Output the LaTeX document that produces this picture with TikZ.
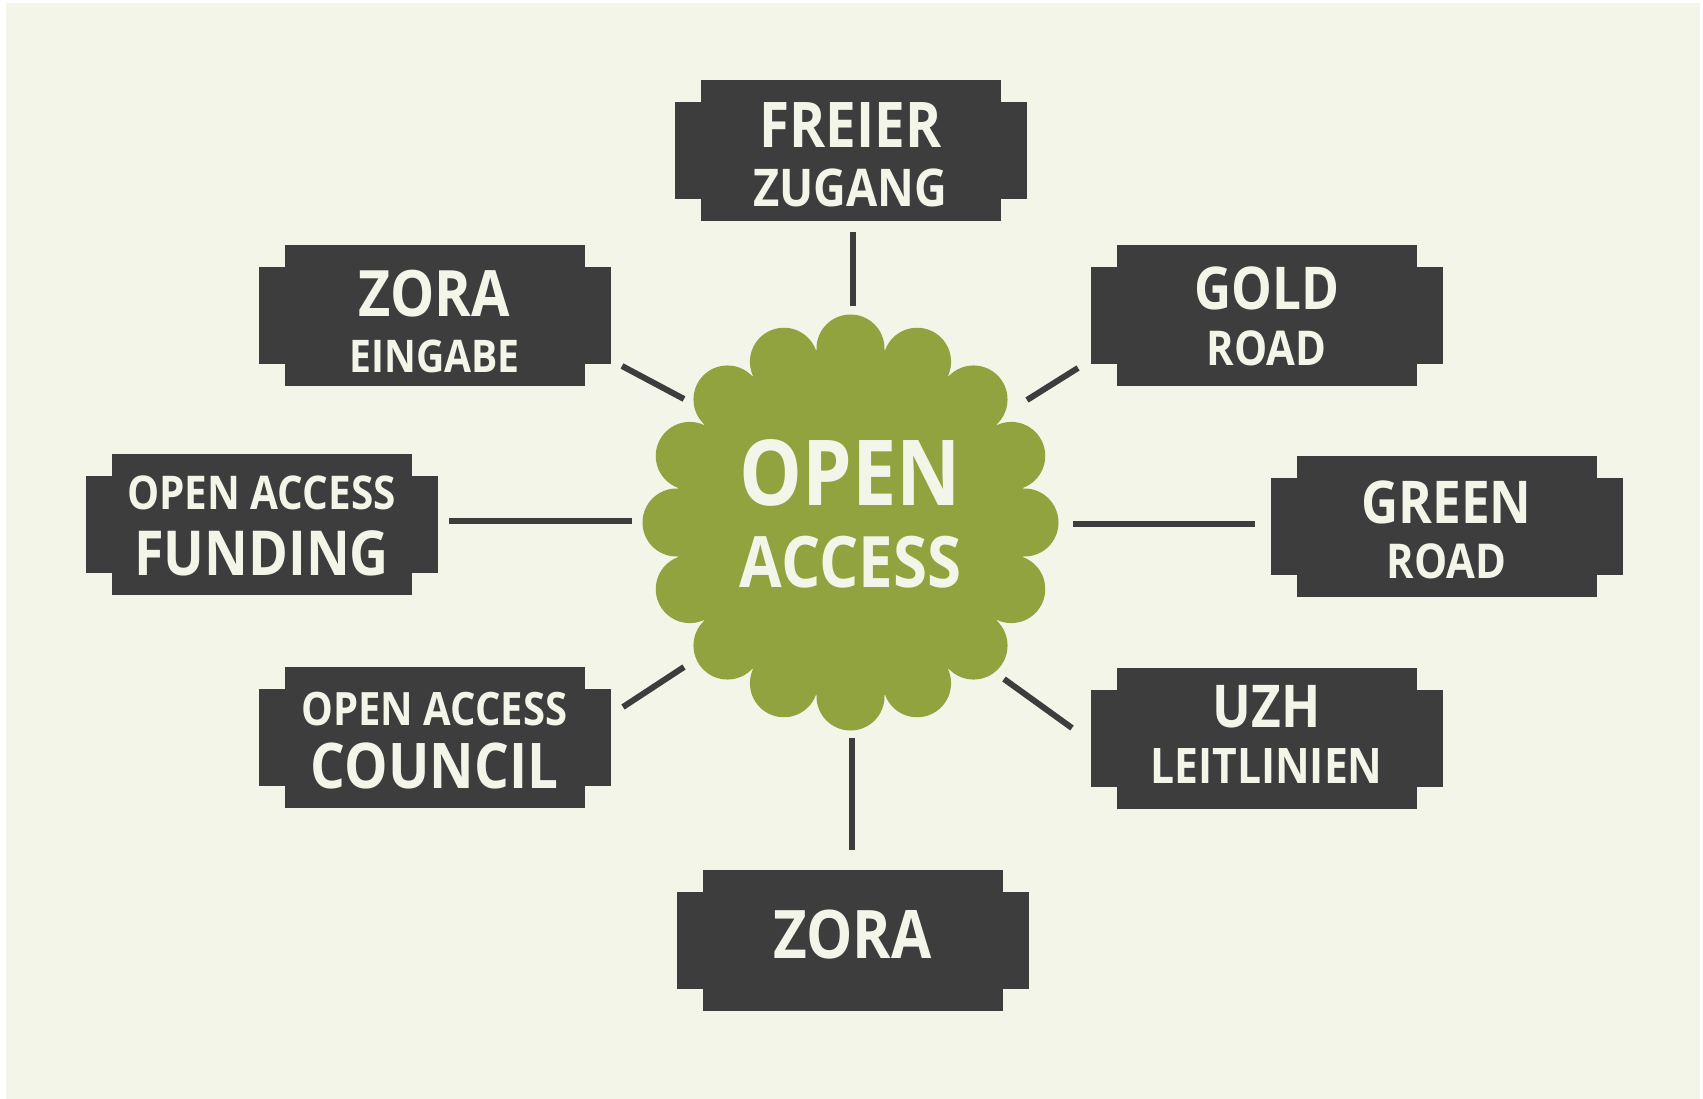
\documentclass[tikz,border=0pt]{standalone}
\usepackage{fontspec}
\newfontfamily\tagfont[FakeStretch=0.87]{Open Sans}
\usetikzlibrary{calc}

\definecolor{paper}{HTML}{F3F5E9}
\definecolor{slate}{HTML}{3D3D3D}
\definecolor{moss}{HTML}{90A33E}

\tikzset{
  tag/.style={fill=slate, text=paper, minimum width=300pt, minimum height=141pt,
    inner sep=0pt, align=center, text depth=0pt},
  hub/.style={text=paper, inner sep=0pt, align=center, text depth=0pt, text height=129pt,
    font={\tagfont\bfseries\fontsize{60}{82}\selectfont}},
  spoke/.style={draw=slate, line width=6pt},
}

\newcommand\sz[2]{{\fontsize{#1}{#1}\selectfont #2}}
% dark plate with side wings; #3 = line skip, #4 = text height
\newcommand\tagbox[5]{%
  \fill[slate] (#2) +(-176pt,-48.5pt) rectangle +(176pt,48.5pt);
  \node[tag, text height=#4pt, font={\tagfont\bfseries\fontsize{40}{#3}\selectfont}] (#1) at (#2) {#5};}

\begin{document}
\begin{tikzpicture}[x=1pt, y=-1pt]
  \useasboundingbox (0,0) rectangle (1703,1099);
  \fill[white] (0,0) rectangle (1703,1099);
  \fill[paper] (6,3) rectangle (1700,1099);

  % centre flower
  \coordinate (hubc) at (850.5,522.5);
  \fill[moss] (hubc) circle (176pt);
  \foreach \a in {0,22.5,...,337.5}
    \fill[moss] ([shift={(\a:174pt)}]hubc) circle (34pt);
  \node[hub] (hub) at (hubc) {\sz{91}{OPEN}\\\sz{71}{ACCESS}};

  % plates
  \tagbox{freier}{850.5,150.5}{59}{113}{\sz{63}{FREIER}\\\sz{52}{ZUGANG}}
  \tagbox{eingabe}{434.5,315.5}{55}{113}{\sz{64}{ZORA}\\\sz{45}{EINGABE}}
  \tagbox{gold}{1266.5,315.5}{55}{99}{\sz{59}{GOLD}\\\sz{48}{ROAD}}
  \tagbox{funding}{261.5,524.5}{66}{101}{\sz{46.5}{OPEN ACCESS}\\\sz{62}{FUNDING}}
  \tagbox{green}{1446.5,526.5}{55}{103}{\sz{59}{GREEN}\\\sz{48}{ROAD}}
  \tagbox{council}{434.5,737.5}{63}{101}{\sz{46}{OPEN ACCESS}\\\sz{63}{COUNCIL}}
  \tagbox{uzh}{1266.5,738.5}{56}{89}{\sz{59}{UZH}\\\sz{49}{LEITLINIEN}}
  \tagbox{zora}{852.5,940.5}{55}{35}{\sz{67}{ZORA}}

  % spokes
  \foreach \n/\xa/\ya/\xb/\yb in {freier/853/306/853/232, eingabe/684/399/622/366,
      gold/1027/400/1078/368, funding/632/521/449/521, green/1073/524/1255/524,
      council/684/667/623/707, uzh/1004/679/1072/728, zora/852/738/852/850}
  {
    \coordinate (\n-in) at (\xa,\ya);
    \coordinate (\n-out) at (\xb,\yb);
    \draw[spoke] (\n-in) -- (\n-out);
  }
\end{tikzpicture}
\end{document}
